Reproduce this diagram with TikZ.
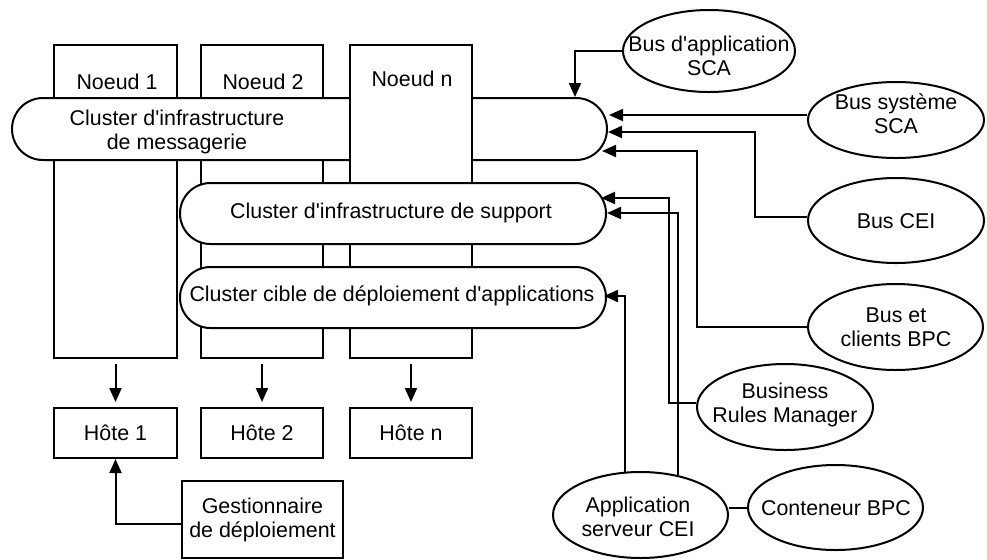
\documentclass[tikz,border=0pt]{standalone}
\usepackage{fontspec}
\setmainfont{Liberation Sans}
\usetikzlibrary{shapes.geometric,shapes.misc,arrows.meta}
\newcommand\aq{\textquotesingle}
\tikzset{
  box/.style={draw, rectangle, line width=1pt, inner sep=0pt, fill=white},
  stadium/.style={draw, rounded rectangle, line width=1pt, inner sep=0pt, fill=white, minimum height=31pt},
  oval/.style={draw, ellipse, line width=1pt, inner sep=0pt, fill=white, minimum width=87.5pt, minimum height=42.5pt},
  txt/.style={inner sep=0pt, align=center},
  conn/.style={line width=1pt},
  arr/.style={line width=1pt, -{Triangle[length=7pt,width=6pt]}}
}
\begin{document}
\begin{tikzpicture}[x=0.5pt,y=-0.5pt, font=\fontsize{10.7pt}{12pt}\selectfont]
\useasboundingbox (0,0) rectangle (987,559);
% nodes 1 and 2 (behind the messaging cluster)
\node[box, minimum width=61.5pt, minimum height=156.5pt] (n1) at (115.5,201.5) {};
\node[box, minimum width=61pt, minimum height=156.5pt] (n2) at (262,201.5) {};
\node[txt] (n1t) at (117,82) {Noeud 1};
\node[txt] (n2t) at (263,82) {Noeud 2};
% messaging cluster
\node[stadium, minimum width=297.5pt] (msg) at (309.5,129) {};
\node[txt] (msgt) at (177,132) {Cluster d\aq infrastructure\\de messagerie};
% node n (in front of messaging cluster)
\node[box, minimum width=61pt, minimum height=156.5pt] (nn) at (411,201.5) {};
\node[txt] (nnt) at (412,79) {Noeud n};
% support and deployment clusters
\node[stadium, minimum width=213pt, minimum height=30.5pt] (sup) at (393,213.5) {};
\node[txt] (supt) at (391,213) {Cluster d\aq infrastructure de support};
\node[stadium, minimum width=213pt, minimum height=30.5pt] (dep) at (393,297.5) {};
\node[txt] (dept) at (392,296) {Cluster cible de déploiement d\aq applications};
% hosts
\node[box, minimum width=61.5pt, minimum height=25pt] (h1) at (115.5,433) {Hôte 1};
\node[box, minimum width=61pt, minimum height=25pt] (h2) at (262,433) {Hôte 2};
\node[box, minimum width=61pt, minimum height=25pt] (hn) at (411,433) {Hôte n};
\node[box, align=center, minimum width=80.5pt, minimum height=38.5pt] (gest) at (262.5,519.5) {Gestionnaire\\de déploiement};
% arrows node -> host
\draw[arr] ([yshift=-2.5pt]n1.south) -- ([yshift=2.5pt]h1.north);
\draw[arr] ([yshift=-2.5pt]n2.south) -- ([yshift=2.5pt]h2.north);
\draw[arr] ([yshift=-2.5pt]nn.south) -- ([yshift=2.5pt]hn.north);
\draw[arr] ([yshift=-2.25pt]gest.west) -| (h1.south);
% ellipses
\node[oval, minimum width=86pt, minimum height=41pt] (busapp) at (709,51) {};
\node[txt] (busappt) at (709,56) {Bus d\aq application\\SCA};
\node[oval, minimum width=88pt, minimum height=38pt] (bussys) at (896,120) {};
\node[txt] (bussyst) at (896,114) {Bus système\\SCA};
\node[oval, minimum width=88pt] (buscei) at (896,220.5) {};
\node[txt] (buscett) at (896,221) {Bus CEI};
\node[oval, minimum width=87.5pt, minimum height=43pt] (busbpc) at (895.5,327) {};
\node[txt] (busbpct) at (896,327) {Bus et\\clients BPC};
\node[oval, minimum width=88pt, minimum height=43pt] (brm) at (785,407) {};
\node[txt] (brmt) at (785,405) {Business\\Rules Manager};
\node[oval, minimum width=87.5pt, minimum height=43pt] (appcei) at (640.5,515) {};
\node[txt] (appceit) at (638,517) {Application\\serveur CEI};
\node[oval, minimum width=87.5pt] (cont) at (835.5,507.5) {};
\node[txt] (contt) at (836,508) {Conteneur BPC};
% tip coordinates
\coordinate (tapp) at (575,97);
\coordinate (tsys) at (609,115);
\coordinate (tcei) at (608,132);
\coordinate (bcei) at (755,132);
\coordinate (tbpc) at (602,151);
\coordinate (bbpc) at (697,151);
\coordinate (tbrm) at (601,198);
\coordinate (bbrm) at (669,198);
\coordinate (tas) at (607,213);
\coordinate (tad) at (604,296);
% connectors
\draw[arr] (busapp.west) -| (tapp);
\draw[arr] (tsys -| bussys.west) -- (tsys);
\draw[arr] ([yshift=1.75pt]buscei.west) -| (bcei) -- (tcei);
\draw[arr] (busbpc.west) -| (bbpc) -- (tbpc);
\draw[arr] ([yshift=2pt]brm.west) -| (bbrm) -- (tbrm);
\draw[arr] (appcei.47) |- (tas);
\draw[arr] (appcei.110) |- (tad);
\draw[conn] (cont.west) -- (cont.west -| appcei.east);
\end{tikzpicture}
\end{document}
